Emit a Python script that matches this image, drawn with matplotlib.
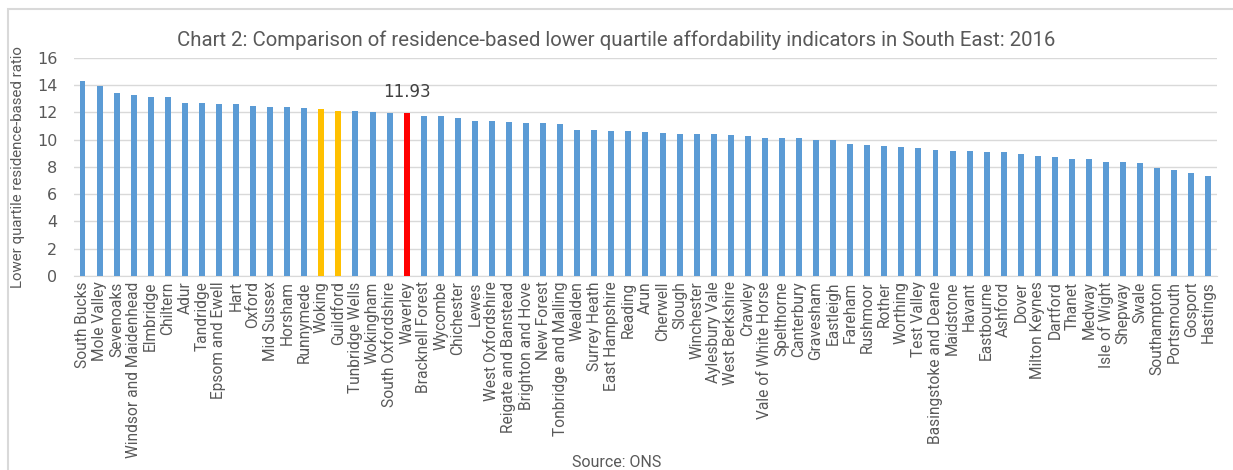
import matplotlib
matplotlib.use("Agg")
import matplotlib.pyplot as plt
from matplotlib import font_manager
from matplotlib.patches import Rectangle


# residence-based lower quartile affordability ratios, South East 2016
districts = [
    "South Bucks", "Mole Valley", "Sevenoaks", "Windsor and Maidenhead", "Elmbridge",
    "Chiltern", "Adur", "Tandridge", "Epsom and Ewell", "Hart", "Oxford", "Mid Sussex",
    "Horsham", "Runnymede", "Woking", "Guildford", "Tunbridge Wells", "Wokingham",
    "South Oxfordshire", "Waverley", "Bracknell Forest", "Wycombe", "Chichester", "Lewes",
    "West Oxfordshire", "Reigate and Banstead", "Brighton and Hove", "New Forest",
    "Tonbridge and Malling", "Wealden", "Surrey Heath", "East Hampshire", "Reading", "Arun",
    "Cherwell", "Slough", "Winchester", "Aylesbury Vale", "West Berkshire", "Crawley",
    "Vale of White Horse", "Spelthorne", "Canterbury", "Gravesham", "Eastleigh", "Fareham",
    "Rushmoor", "Rother", "Worthing", "Test Valley", "Basingstoke and Deane", "Maidstone",
    "Havant", "Eastbourne", "Ashford", "Dover", "Milton Keynes", "Dartford", "Thanet",
    "Medway", "Isle of Wight", "Shepway", "Swale", "Southampton", "Portsmouth", "Gosport",
    "Hastings",
]
ratios = [
    14.27, 13.90, 13.41, 13.29, 13.16, 13.09, 12.70, 12.70, 12.63, 12.63, 12.43, 12.38,
    12.38, 12.31, 12.23, 12.11, 12.11, 12.04, 11.96, 11.93, 11.72, 11.72, 11.60, 11.40,
    11.40, 11.28, 11.20, 11.20, 11.13, 10.74, 10.74, 10.66, 10.62, 10.54, 10.47, 10.42,
    10.42, 10.42, 10.35, 10.27, 10.15, 10.15, 10.08, 10.00, 9.95, 9.68, 9.61, 9.54, 9.49,
    9.41, 9.22, 9.17, 9.17, 9.10, 9.10, 8.95, 8.83, 8.75, 8.56, 8.56, 8.36, 8.36, 8.29,
    7.89, 7.77, 7.57, 7.31,
]
yticks = [0, 2, 4, 6, 8, 10, 12, 14, 16]
neighbours = ["Woking", "Guildford"]
focus = "Waverley"

BLUE = "#5B9BD5"
GOLD = "#FFC000"
RED = "#FF0000"
TXT = "#595959"
GRID = "#D9D9D9"

# narrow face, closest thing to Calibri we have
installed = {f.name for f in font_manager.fontManager.ttflist}
NARROW = "Liberation Sans Narrow" if "Liberation Sans Narrow" in installed else "Roboto"


def bar_colour(name):
    if name == focus:
        return RED
    if name in neighbours:
        return GOLD
    return BLUE


def main():
    fig = plt.figure(figsize=(12.33, 4.70), dpi=100)
    ax = fig.add_axes([0.060, 0.413, 0.927, 0.464])

    # outer chart frame
    fig.patches.append(Rectangle((8 / 1233, -0.1), 1.2, 1 - 9 / 470 + 0.1,
                                 transform=fig.transFigure, fill=False,
                                 edgecolor=GRID, linewidth=1.5))

    x = range(len(districts))
    ax.bar(x, ratios, width=0.35, color=[bar_colour(d) for d in districts], zorder=3)

    ax.set_xlim(-0.5, len(districts) - 0.5)
    ax.set_ylim(0, 16)
    ax.set_yticks(yticks)
    ax.set_xticks(list(x))
    ax.set_xticklabels(districts, rotation=90, fontsize=11.2, color=TXT, family=NARROW)
    ax.tick_params(axis="y", labelsize=11.5, colors=TXT, length=0, pad=12)
    ax.tick_params(axis="x", length=0, pad=4)
    ax.yaxis.grid(True, color=GRID, linewidth=1, zorder=0)

    for side in ["top", "right", "left"]:
        ax.spines[side].set_visible(False)
    ax.spines["bottom"].set_color(GRID)

    i = districts.index(focus)
    ax.text(i, ratios[i] + 0.9, "%.2f" % ratios[i], ha="center", va="bottom",
            fontsize=12, color="#404040")

    ax.set_ylabel("Lower quartile residence-based ratio", fontsize=10.8, color=TXT,
                  family=NARROW)
    ax.yaxis.set_label_coords(-0.043, 0.5)

    fig.text(0.5, 0.915, "Chart 2: Comparison of residence-based lower quartile "
             "affordability indicators in South East: 2016",
             ha="center", va="center", fontsize=14.7, color=TXT, family=NARROW)
    fig.text(0.5, 0.015, "Source: ONS", ha="center", va="center",
             fontsize=11.5, color=TXT, family=NARROW)

    fig.savefig("out.png", dpi=100)


if __name__ == "__main__":
    main()
